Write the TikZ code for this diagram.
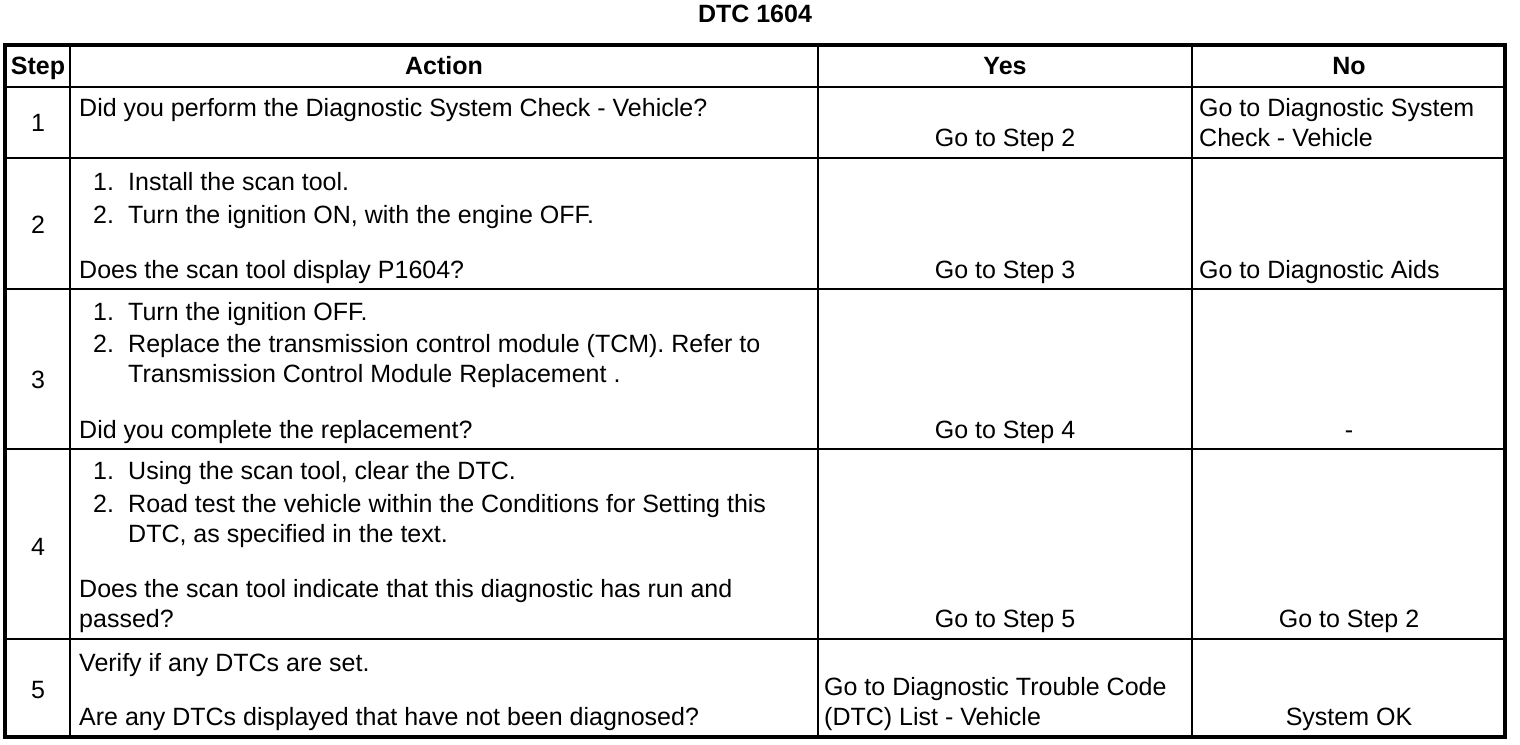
\documentclass[tikz,border=0pt]{standalone}
\usepackage{fontspec}
\setmainfont{Liberation Sans}
\begin{document}
\begin{tikzpicture}[x=1pt,y=-1pt,
  txt/.style={inner sep=0pt,font=\fontsize{25}{30}\selectfont},
  lt/.style={txt,anchor=base west},
  ct/.style={txt,anchor=base},
  hd/.style={txt,anchor=base,font=\fontsize{25}{30}\selectfont\bfseries},
  grid/.style={line width=2pt},
  frame/.style={line width=3.5pt}]
\useasboundingbox (0,0) rectangle (1520,744);
% title
\node[hd] (title) at (755,23) {DTC 1604};
% inner lines
\draw[grid] (70,45) -- (70,737);
\draw[grid] (818,45) -- (818,737);
\draw[grid] (1192,45) -- (1192,737);
\foreach \yy in {87,158,289,449,639} \draw[grid] (5,\yy) -- (1505,\yy);
\draw[frame] (5,45) rectangle (1505,737);
% header
\node[hd] (hstep) at (38,74) {Step};
\node[hd] (hact) at (444,74) {Action};
\node[hd] (hyes) at (1005,74) {Yes};
\node[hd] (hno) at (1349,74) {No};
% step numbers
\node[ct] (s1) at (38,131) {1};
\node[ct] (s2) at (38,233) {2};
\node[ct] (s3) at (38,388) {3};
\node[ct] (s4) at (38,555) {4};
\node[ct] (s5) at (38,698) {5};
% row 1
\node[lt] (a1) at (79,116) {Did you perform the Diagnostic System Check - Vehicle?};
\node[ct] (y1) at (1005,146) {Go to Step 2};
\node[lt] (n1a) at (1199,116) {Go to Diagnostic System};
\node[lt] (n1b) at (1199,146) {Check - Vehicle};
% row 2
\node[lt] (a2n1) at (93,190) {1.};
\node[lt] (a2a) at (128,190) {Install the scan tool.};
\node[lt] (a2n2) at (93,223) {2.};
\node[lt] (a2b) at (128,223) {Turn the ignition ON, with the engine OFF.};
\node[lt] (a2q) at (79,278) {Does the scan tool display P1604?};
\node[ct] (y2) at (1005,278) {Go to Step 3};
\node[lt] (n2) at (1199,278) {Go to Diagnostic Aids};
% row 3
\node[lt] (a3n1) at (93,320) {1.};
\node[lt] (a3a) at (128,320) {Turn the ignition OFF.};
\node[lt] (a3n2) at (93,352) {2.};
\node[lt] (a3b) at (128,352) {Replace the transmission control module (TCM). Refer to};
\node[lt] (a3c) at (128,382) {Transmission Control Module Replacement .};
\node[lt] (a3q) at (79,438) {Did you complete the replacement?};
\node[ct] (y3) at (1005,438) {Go to Step 4};
\node[ct] (n3) at (1349,438) {-};
% row 4
\node[lt] (a4n1) at (93,479) {1.};
\node[lt] (a4a) at (128,479) {Using the scan tool, clear the DTC.};
\node[lt] (a4n2) at (93,512) {2.};
\node[lt] (a4b) at (128,512) {Road test the vehicle within the Conditions for Setting this};
\node[lt] (a4c) at (128,542) {DTC, as specified in the text.};
\node[lt] (a4q) at (79,597) {Does the scan tool indicate that this diagnostic has run and};
\node[lt] (a4r) at (79,627) {passed?};
\node[ct] (y4) at (1005,627) {Go to Step 5};
\node[ct] (n4) at (1349,627) {Go to Step 2};
% row 5
\node[lt] (a5a) at (79,671) {Verify if any DTCs are set.};
\node[lt] (a5q) at (79,725) {Are any DTCs displayed that have not been diagnosed?};
\node[lt] (y5a) at (824,695) {Go to Diagnostic Trouble Code};
\node[lt] (y5b) at (824,725) {(DTC) List - Vehicle};
\node[ct] (n5) at (1349,725) {System OK};
\end{tikzpicture}
\end{document}
